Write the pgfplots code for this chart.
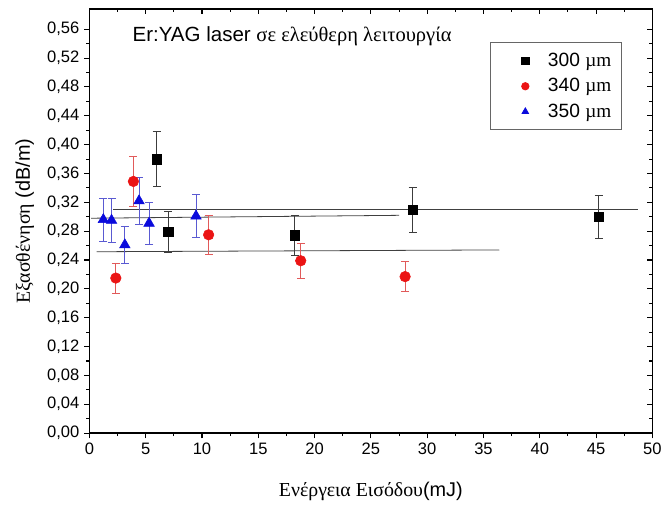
\documentclass[border=0pt]{standalone}
\usepackage{fontspec}
\setmainfont{Liberation Sans}
\newfontfamily\grserif{Liberation Serif}
\usepackage{pgfplots}
\pgfplotsset{compat=1.18}
\usepackage{pgfplotstable}

\pgfplotstableread{
x y e
5.97 0.380 0.038
7.00 0.279 0.028
18.24 0.274 0.028
28.71 0.310 0.031
45.22 0.300 0.030
}\tblack
\pgfplotstableread{
x y e
2.35 0.215 0.021
3.91 0.349 0.035
10.59 0.275 0.027
18.77 0.239 0.024
28.04 0.217 0.021
}\tred
\pgfplotstableread{
x y e
1.24 0.296 0.030
1.97 0.295 0.030
3.15 0.261 0.026
4.41 0.322 0.033
5.30 0.291 0.029
9.47 0.301 0.030
}\tblue

\definecolor{mred}{RGB}{235,20,20}
\definecolor{mblue}{RGB}{10,10,220}
\definecolor{ered}{RGB}{225,90,90}
\definecolor{eblue}{RGB}{90,90,210}
\definecolor{eblack}{RGB}{60,60,60}

\begin{document}
\begin{tikzpicture}
\pgfplotsset{
  myframe/.style={
    width=425.25pt, height=320.25pt, scale only axis,
    xmin=0, xmax=50, ymin=0, ymax=0.588,
    xtick={0,5,...,50}, ytick={0,0.04,...,0.57},
    minor x tick num=1, minor y tick num=1,
    major tick length=4pt, minor tick length=2.2pt,
    axis line style={line width=1pt},
    every tick/.style={black, line width=0.8pt},
  },
  myleg/.style={legend image code/.code={\path[draw=none,fill=none] (-0.29cm,-0.1cm) rectangle (0.95cm,0.1cm);\draw[mark repeat=2,mark phase=2,##1,only marks,mark size=2.8pt] plot coordinates {(0cm,0cm)(0.42cm,0cm)(0.95cm,0cm)};}},
}
% top/right inner ticks
\begin{axis}[myframe, xtick pos=top, ytick pos=right, tick align=inside,
  xticklabels={}, yticklabels={}]
\end{axis}
\begin{axis}[myframe, xtick pos=bottom, ytick pos=left, tick align=outside,
  /pgf/number format/assume math mode=true,
  tick label style={font=\fontsize{12.5}{14}\selectfont},
  yticklabel style={/pgf/number format/.cd, fixed, fixed zerofill, precision=2, use comma},
  xticklabel style={/pgf/number format/.cd, fixed, precision=0},
  scaled y ticks=false,
  xlabel={{\grserif Ενέργεια Εισόδου}(mJ)},
  ylabel={{\grserif Εξασθένηση} (dB/m)},
  label style={font=\fontsize{15}{17}\selectfont},
  xlabel style={at={(axis description cs:0.5,-0.138)}, anchor=center},
  ylabel style={at={(axis description cs:-0.1146,0.5)}, anchor=center},
  legend style={at={(axis cs:35.6,0.542)}, anchor=north west,
    draw=gray!80!black, line width=0.6pt,
    font=\fontsize{14.5}{16}\selectfont, row sep=3.5pt,
    inner xsep=6pt, inner ysep=6pt},
  legend cell align=left,
]
% fit lines
\addplot[forget plot, color=black!75, line width=0.6pt] coordinates {(2.1,0.310) (48.7,0.310)};
\addplot[forget plot, color=black!75, line width=0.6pt] coordinates {(0.15,0.298) (27.5,0.302)};
\addplot[forget plot, color=black!75, line width=0.6pt] coordinates {(0.65,0.2515) (36.4,0.254)};

\addplot[only marks, myleg, mark=square*, mark size=3.6pt, color=black,
  error bars/.cd, y dir=both, y explicit,
  error bar style={color=eblack, line width=0.6pt},
  error mark options={rotate=90, mark size=3pt, color=eblack, line width=0.6pt}]
  table[x=x, y=y, y error=e] {\tblack};
\addlegendentry{300 {\grserif µm}}

\addplot[only marks, myleg, mark=*, mark size=4pt, color=mred,
  error bars/.cd, y dir=both, y explicit,
  error bar style={color=ered, line width=0.6pt},
  error mark options={rotate=90, mark size=3pt, color=ered, line width=0.6pt}]
  table[x=x, y=y, y error=e] {\tred};
\addlegendentry{340 {\grserif µm}}

\addplot[only marks, myleg, mark=triangle*, mark size=4.6pt, color=mblue,
  error bars/.cd, y dir=both, y explicit,
  error bar style={color=eblue, line width=0.6pt},
  error mark options={rotate=90, mark size=3pt, color=eblue, line width=0.6pt}]
  table[x=x, y=y, y error=e] {\tblue};
\addlegendentry{350 {\grserif µm}}

\node[font=\fontsize{15.5}{17}\selectfont, anchor=center] at (axis cs:18,0.551)
  {Er:YAG laser {\grserif σε ελεύθερη λειτουργία}};
\end{axis}
\path ([xshift=-67.5pt,yshift=-51pt]current axis.south west) rectangle ([xshift=6.75pt,yshift=6.75pt]current axis.north east);
\end{tikzpicture}
\end{document}
